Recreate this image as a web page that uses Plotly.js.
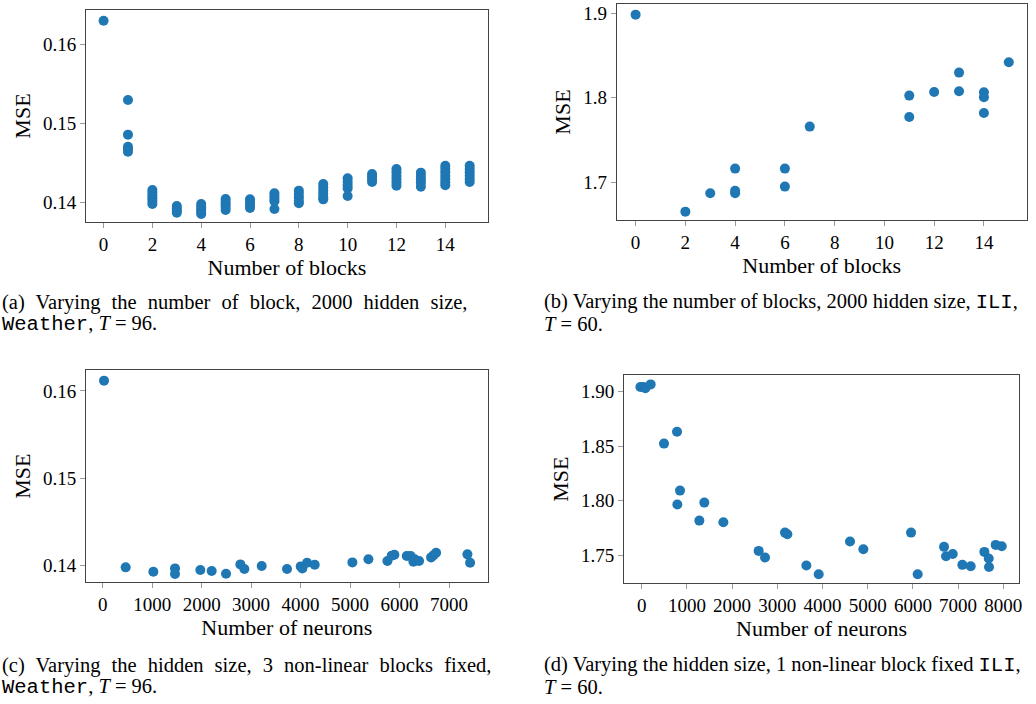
<!DOCTYPE html>
<html>
<head>
<meta charset="utf-8">
<script src="https://cdn.plot.ly/plotly-3.0.1.min.js"></script>
<style>html,body{margin:0;padding:0;background:#fff;}#chart{width:1036px;height:704px;}</style>
</head>
<body>
<div id="chart"></div>
<script>
// (a) number of blocks vs MSE, Weather
const aBlocks = [0,
  1,1,1,1,1,
  2,2,2,2,2,2,
  3,3,3,3,
  4,4,4,4,4,
  5,5,5,5,5,
  6,6,6,6,
  7,7,7,7,7,
  8,8,8,8,8,
  9,9,9,9,9,9,
  10,10,10,10,10,
  11,11,11,11,
  12,12,12,12,12,12,
  13,13,13,13,13,
  14,14,14,14,14,14,14,
  15,15,15,15,15,15];
const aMSE = [0.16298,
  0.15297,0.14859,0.14707,0.14678,0.14644,
  0.14160,0.14126,0.14088,0.14055,0.14021,0.13983,
  0.13958,0.13928,0.13899,0.13874,
  0.13983,0.13949,0.13916,0.13882,0.13857,
  0.14046,0.14013,0.13979,0.13945,0.13907,
  0.14042,0.14008,0.13975,0.13933,
  0.14118,0.14084,0.14051,0.14017,0.13920,
  0.14152,0.14109,0.14067,0.14025,0.13992,
  0.14236,0.14194,0.14152,0.14109,0.14067,0.14042,
  0.14307,0.14265,0.14223,0.14181,0.14084,
  0.14362,0.14328,0.14295,0.14261,
  0.14425,0.14383,0.14341,0.14299,0.14257,0.14215,
  0.14379,0.14337,0.14295,0.14253,0.14202,
  0.14467,0.14425,0.14383,0.14341,0.14299,0.14257,0.14219,
  0.14467,0.14425,0.14383,0.14341,0.14299,0.14261];

// (b) number of blocks vs MSE, ILI
const bBlocks = [0, 2, 3, 4, 4, 4, 6, 6, 7, 11, 11, 12, 13, 13, 14, 14, 14, 15];
const bMSE = [1.8984, 1.6653, 1.6870, 1.7162, 1.6901, 1.6870, 1.7162, 1.6949, 1.7659,
  1.8026, 1.7773, 1.8069, 1.8298, 1.8077, 1.8065, 1.8006, 1.7820, 1.8420];

// (c) hidden size vs MSE, Weather
const cNeurons = [27, 465, 1024, 1462, 1462, 1974, 2203, 2493, 2783, 2864, 3214, 3726, 4003, 4036,
  4131, 4286, 5047, 5371, 5755, 5842, 5896, 6146, 6226, 6280, 6307, 6395, 6638, 6685, 6739, 7372, 7426];
const cMSE = [0.16118, 0.13981, 0.13931, 0.13969, 0.13905, 0.13950, 0.13939, 0.13908, 0.14015, 0.13962,
  0.13996, 0.13962, 0.13992, 0.13969, 0.14034, 0.14011, 0.14038, 0.14073, 0.14053, 0.14115, 0.14126,
  0.14111, 0.14111, 0.14046, 0.14073, 0.14053, 0.14095, 0.14118, 0.14149, 0.14130, 0.14034];

// (d) hidden size vs MSE, ILI
const dNeurons = [-29, 37, 81, 199, 494, 782, 848, 789, 1386, 1276, 1807, 2588, 2729, 3171, 3223, 3643,
  3916, 4609, 4904, 5959, 6106, 6689, 6733, 6881, 7094, 7279, 7581, 7677, 7684, 7832, 7965];
const dMSE = [1.9043, 1.9043, 1.9031, 1.9067, 1.8524, 1.8633, 1.8093, 1.7965, 1.7983, 1.7818, 1.7803,
  1.7540, 1.7479, 1.7708, 1.7693, 1.7406, 1.7326, 1.7626, 1.7555, 1.7708, 1.7326, 1.7577, 1.7491,
  1.7512, 1.7412, 1.7400, 1.7531, 1.7470, 1.7393, 1.7595, 1.7583];

const blockTicks = [0, 2, 4, 6, 8, 10, 12, 14];
const cNeuronTicks = [0, 1000, 2000, 3000, 4000, 5000, 6000, 7000];
const dNeuronTicks = [0, 1000, 2000, 3000, 4000, 5000, 6000, 7000, 8000];
const weatherMSETicks = [0.14, 0.15, 0.16];
const iliBlockMSETicks = [1.7, 1.8, 1.9];
const iliNeuronMSETicks = [1.75, 1.80, 1.85, 1.90];

const xTitleBlocks = 'Number of blocks';
const xTitleNeurons = 'Number of neurons';
const yTitle = 'MSE';

const mono = "'Liberation Mono', 'DejaVu Sans Mono', monospace";
const tt = s => '<span style="font-family:' + mono + '">' + s + '</span>';
const just = s => '<span style="word-spacing:6px">' + s + '</span>';
const captions = [
  {x: 0.0, y: 1 - 302/704, t: just('(a) Varying the number of block, 2000 hidden size,')},
  {x: 0.0, y: 1 - 324/704, t: tt('Weather') + ', <i>T</i> = 96.'},
  {x: 542/1036, y: 1 - 302/704, t: '(b) Varying the number of blocks, 2000 hidden size, ' + tt('ILI') + ','},
  {x: 542/1036, y: 1 - 324/704, t: '<i>T</i> = 60.'},
  {x: 0.0, y: 1 - 665/704, t: just('(c) Varying the hidden size, 3 non-linear blocks fixed,')},
  {x: 0.0, y: 1 - 687/704, t: tt('Weather') + ', <i>T</i> = 96.'},
  {x: 542/1036, y: 1 - 665/704, t: '(d) Varying the hidden size, 1 non-linear block fixed ' + tt('ILI') + ','},
  {x: 542/1036, y: 1 - 687/704, t: '<i>T</i> = 60.'}
];

const serif = "'Liberation Serif', 'DejaVu Serif', serif";
const blue = '#1f77b4';
const marker = {color: blue, size: 10, line: {width: 0}};

const traces = [
  {x: aBlocks, y: aMSE, xaxis: 'x', yaxis: 'y', type: 'scatter', mode: 'markers', marker: marker},
  {x: bBlocks, y: bMSE, xaxis: 'x2', yaxis: 'y2', type: 'scatter', mode: 'markers', marker: marker},
  {x: cNeurons, y: cMSE, xaxis: 'x3', yaxis: 'y3', type: 'scatter', mode: 'markers', marker: marker},
  {x: dNeurons, y: dMSE, xaxis: 'x4', yaxis: 'y4', type: 'scatter', mode: 'markers', marker: marker}
];

function xax(domain, range, ticks, title, anchor) {
  return {
    domain: domain, range: range, anchor: anchor,
    tickmode: 'array', tickvals: ticks, tickformat: 'd',
    ticks: 'outside', ticklen: 5, tickcolor: '#999', tickwidth: 1,
    showline: true, linecolor: '#444', linewidth: 1, mirror: true,
    showgrid: false, zeroline: false,
    tickfont: {family: serif, size: 19, color: '#000'},
    title: {text: title, font: {family: serif, size: 22, color: '#000'}, standoff: 2}
  };
}
function yax(domain, range, ticks, fmt, anchor) {
  return {
    domain: domain, range: range, anchor: anchor,
    tickmode: 'array', tickvals: ticks, tickformat: fmt,
    ticks: 'outside', ticklen: 5, tickcolor: '#999', tickwidth: 1,
    showline: true, linecolor: '#444', linewidth: 1, mirror: true,
    showgrid: false, zeroline: false,
    tickfont: {family: serif, size: 19, color: '#000'},
    title: {text: yTitle, font: {family: serif, size: 22, color: '#000'}, standoff: 6}
  };
}

const layout = {
  width: 1036, height: 704,
  margin: {l: 0, r: 0, t: 0, b: 0},
  paper_bgcolor: '#fff', plot_bgcolor: '#fff',
  showlegend: false,
  font: {family: serif, color: '#000'},
  xaxis: xax([86/1036, 488/1036], [-0.72, 15.75], blockTicks, xTitleBlocks, 'y'),
  yaxis: yax([1 - 222/704, 1 - 10/704], [0.13756, 0.16433], weatherMSETicks, '.2f', 'x'),
  xaxis2: xax([616.7/1036, 1026.7/1036], [-0.76, 15.72], blockTicks, xTitleBlocks, 'y2'),
  yaxis2: yax([1 - 220/704, 1 - 4/704], [1.6554, 1.911], iliBlockMSETicks, '.1f', 'x2'),
  xaxis3: xax([86/1036, 487.7/1036], [-337, 7782], cNeuronTicks, xTitleNeurons, 'y3'),
  yaxis3: yax([1 - 582.3/704, 1 - 370/704], [0.1381, 0.1624], weatherMSETicks, '.2f', 'x3'),
  xaxis4: xax([624/1036, 1019.3/1036], [-391, 8354], dNeuronTicks, xTitleNeurons, 'y4'),
  yaxis4: yax([1 - 583.3/704, 1 - 375/704], [1.7243, 1.9153], iliNeuronMSETicks, '.2f', 'x4'),
  annotations: captions.map(c => ({
    xref: 'paper', yref: 'paper', x: c.x, y: c.y, xanchor: 'left', yanchor: 'middle',
    text: c.t, showarrow: false, align: 'left',
    font: {family: serif, size: 20.5, color: '#000'}
  }))
};

Plotly.newPlot('chart', traces, layout, {displayModeBar: false, staticPlot: true});
</script>
</body>
</html>
